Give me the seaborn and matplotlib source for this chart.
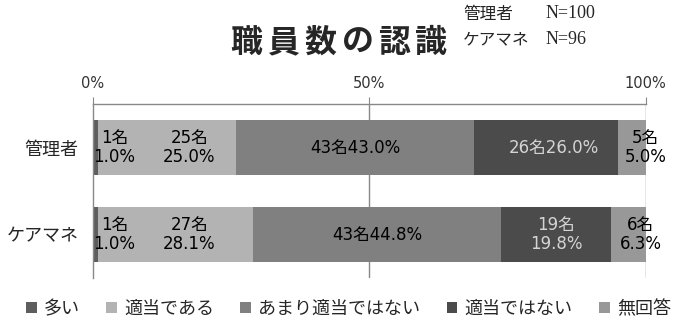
import matplotlib
matplotlib.use("Agg")
import matplotlib.pyplot as plt
import seaborn as sns
import pandas as pd
import numpy as np
from matplotlib.patches import Patch

sns.set_style("white")
plt.rcParams['font.family'] = ['Noto Sans CJK JP', 'DejaVu Sans']

groups = ["管理者", "ケアマネ"]
answers = ["多い", "適当である", "あまり適当ではない", "適当ではない", "無回答"]
counts_kanri = [1, 25, 43, 26, 5]
pcts_kanri = [1.0, 25.0, 43.0, 26.0, 5.0]
counts_care = [1, 27, 43, 19, 6]
pcts_care = [1.0, 28.1, 44.8, 19.8, 6.3]
group_n = ["N=100", "N=96"]
title = "職員数の認識"
colors = ["#5e5e5e", "#b3b3b3", "#808080", "#4b4b4b", "#989898"]
label_colors = ["black", "black", "black", "#d4d4d4", "black"]
# label nudges (percentage points) mimicking the original label placement
nudges_kanri = [3.5, 4.0, 0.0, 1.5, 2.5]
nudges_care = [3.5, 2.5, 0.0, 0.0, 2.3]
single_line = [[False, False, True, True, False], [False, False, True, False, False]]

counts = [counts_kanri, counts_care]
pcts = [pcts_kanri, pcts_care]
nudges = [nudges_kanri, nudges_care]
label_family = ['DejaVu Sans', 'Noto Sans CJK JP']

fig = plt.figure(figsize=(6.83, 3.24), dpi=100)
ax = fig.add_axes([92.5 / 683, 1 - 278 / 324, 553 / 683, 174 / 324])

cum = np.cumsum(np.array(pcts), axis=1)
rows = []
for gi, g in enumerate(groups):
    for ai, a in enumerate(answers):
        rows.append({"group": g, "answer": a, "cum": cum[gi, ai]})
df = pd.DataFrame(rows)

for ai in reversed(range(len(answers))):
    sub = df[df["answer"] == answers[ai]]
    sns.barplot(data=sub, x="cum", y="group", order=groups, color=colors[ai],
                orient="h", width=0.63, ax=ax, saturation=1, edgecolor="none",
                linewidth=0)

for gi in range(len(groups)):
    start = 0.0
    for ai in range(len(answers)):
        v = pcts[gi][ai]
        xc = start + v / 2 + nudges[gi][ai]
        if single_line[gi][ai]:
            txt = f"{counts[gi][ai]}名{v:.1f}%"
        else:
            txt = f"{counts[gi][ai]}名\n{v:.1f}%"
        ax.text(xc, gi, txt, ha="center", va="center", fontsize=12,
                color=label_colors[ai], linespacing=1.05, family=label_family)
        start += v

ax.set_xlim(0, 100)
ax.set_ylim(1.5, -0.5)
ax.xaxis.tick_top()
ax.set_xticks([0, 50, 100])
ax.set_xticklabels(["0%", "50%", "100%"], fontsize=10.5, color="#333333",
                   family=label_family)
ax.tick_params(axis="x", direction="out", length=5, color="#888888", pad=4)
for xg in [50, 100]:
    ax.axvline(xg, color="#888888", lw=1, zorder=0)
ax.set_yticks([0, 1])
ax.set_yticklabels(groups, fontsize=13)
ax.tick_params(axis="y", length=0, pad=10)
ax.set_yticks([0.5, 1.5], minor=True)
ax.tick_params(axis="y", which="minor", length=6, color="#888888", direction="out")
ax.set_xlabel("")
ax.set_ylabel("")
for s in ["right", "bottom"]:
    ax.spines[s].set_visible(False)
for s in ["top", "left"]:
    ax.spines[s].set_color("#888888")
    ax.spines[s].set_linewidth(1)

# title with wide letter spacing
for i, ch in enumerate(title):
    fig.text((228 + 18.5 + 37 * i) / 683, 1 - 43 / 324, ch, ha="center",
             va="center", fontsize=23, fontweight="bold")
for gi, g in enumerate(groups):
    y = 1 - (14 + 26 * gi) / 324
    fig.text(463 / 683, y, g, ha="left", va="center", fontsize=12)
    fig.text(546 / 683, y, group_n[gi], ha="left", va="center", fontsize=13,
             family=["Liberation Serif"])

handles = [Patch(facecolor=c, edgecolor="none") for c in colors]
fig.legend(handles, answers, loc="center", bbox_to_anchor=(0.51, 1 - 309 / 324),
           ncol=5, frameon=False, fontsize=13, handlelength=0.6, handleheight=0.6,
           handletextpad=0.4, columnspacing=1.45)

fig.savefig("out.png", dpi=100)
